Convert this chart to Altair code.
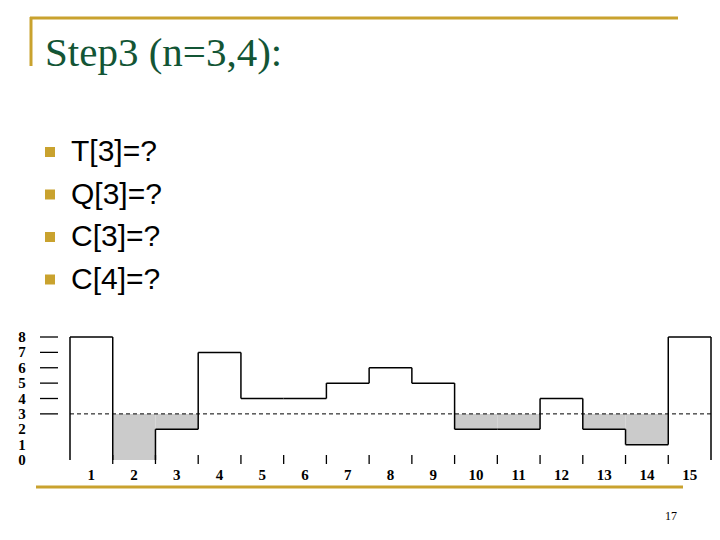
import altair as alt
import pandas as pd

# ---- data ----
bins = list(range(1, 16))
values = [8, 0, 2, 7, 4, 4, 5, 6, 5, 2, 2, 4, 2, 1, 8]
threshold = 3
y_levels = list(range(0, 9))
y_tick_levels = [3, 4, 5, 6, 7, 8]
x_labels = [str(b) for b in bins]
title_text = "Step3 (n=3,4):"
bullet_items = ["T[3]=?", "Q[3]=?", "C[3]=?", "C[4]=?"]
page_number = "17"

GOLD = "#c9a22e"
GREEN = "#135535"
SERIF = "Liberation Serif"
SANS = "Liberation Sans"

# shared scales (chart coords = page coords - 8)
xs = alt.Scale(domain=[0.5, 15.5], range=[62, 703])
ys = alt.Scale(domain=[0, 8], range=[452, 329])

bars = pd.DataFrame({"bin": bins, "val": values})
bars["left"] = bars["bin"] - 0.5
bars["right"] = bars["bin"] + 0.5
bars["thr"] = threshold

tops = bars[bars["val"] > 0]
fills = bars[bars["val"] < threshold]

bounds = [b - 0.5 for b in bins] + [bins[-1] + 0.5]
prev_vals = [0] + values
next_vals = values + [0]
verts = pd.DataFrame({"b": bounds, "y1": prev_vals, "y2": next_vals})
inner = pd.DataFrame({"b": bounds[1:-1]})

X = lambda f: alt.X(f, type="quantitative", scale=xs, axis=None)
Y = lambda f: alt.Y(f, type="quantitative", scale=ys, axis=None)

layers = []

# grey fills below threshold
layers.append(alt.Chart(fills).mark_rect(color="#cbcbcb").encode(
    x=X("left"), x2="right", y=Y("val"), y2="thr"))

# dashed threshold line
thr_df = pd.DataFrame({"l": [bounds[0]], "r": [bounds[-1]], "t": [threshold]})
layers.append(alt.Chart(thr_df).mark_rule(color="black", strokeWidth=1, strokeDash=[4, 3]).encode(
    x=X("l"), x2="r", y=Y("t")))

# y tick lines
layers.append(alt.Chart(pd.DataFrame({"lv": y_tick_levels})).mark_rule(color="black", strokeWidth=1.3).encode(
    x=alt.value(32), x2=alt.value(50), y=Y("lv")))

# histogram tops
layers.append(alt.Chart(tops).mark_rule(color="black", strokeWidth=1.5).encode(
    x=X("left"), x2="right", y=Y("val")))

# histogram verticals
layers.append(alt.Chart(verts).mark_rule(color="black", strokeWidth=1.5).encode(
    x=X("b"), y=Y("y1"), y2="y2"))

# small ticks at bin boundaries
layers.append(alt.Chart(inner).mark_rule(color="black", strokeWidth=1.3).encode(
    x=X("b"), y=alt.value(447), y2=alt.value(456)))

# y labels
layers.append(alt.Chart(pd.DataFrame({"lv": y_levels})).mark_text(
    font=SERIF, fontSize=15, fontWeight="bold", align="center", baseline="middle", color="black").encode(
    x=alt.value(14), y=Y("lv"), text="lv:N"))

# x labels
layers.append(alt.Chart(pd.DataFrame({"bin": bins, "lab": x_labels})).mark_text(
    font=SERIF, fontSize=15, fontWeight="bold", align="center", baseline="alphabetic", color="black").encode(
    x=X("bin"), y=alt.value(472), text="lab:N"))

# slide frame lines
frame = pd.DataFrame({"k": [0]})
layers.append(alt.Chart(frame).mark_rule(color=GOLD, strokeWidth=3).encode(
    x=alt.value(22), x2=alt.value(670), y=alt.value(10)))
layers.append(alt.Chart(frame).mark_rule(color=GOLD, strokeWidth=3).encode(
    x=alt.value(23), y=alt.value(9), y2=alt.value(58)))
layers.append(alt.Chart(frame).mark_rule(color=GOLD, strokeWidth=3).encode(
    x=alt.value(28), x2=alt.value(675), y=alt.value(479)))

# title
layers.append(alt.Chart(pd.DataFrame({"t": [title_text]})).mark_text(
    font=SERIF, fontSize=41, color=GREEN, align="left", baseline="alphabetic").encode(
    x=alt.value(37), y=alt.value(58), text="t:N"))

# bullets
for k, item in enumerate(bullet_items):
    cy = 144 + k * 42.5
    layers.append(alt.Chart(pd.DataFrame({"t": [item]})).mark_square(
        color=GOLD, size=100, opacity=1, filled=True).encode(
        x=alt.value(42), y=alt.value(cy)))
    layers.append(alt.Chart(pd.DataFrame({"t": [item]})).mark_text(
        font=SANS, fontSize=30, color="black", align="left", baseline="alphabetic").encode(
        x=alt.value(63), y=alt.value(cy + 9), text="t:N"))

# page number
layers.append(alt.Chart(pd.DataFrame({"t": [page_number]})).mark_text(
    font=SERIF, fontSize=12, color="black", align="center", baseline="alphabetic").encode(
    x=alt.value(663), y=alt.value(512), text="t:N"))

chart = alt.layer(*layers).properties(
    width=704, height=524,
    autosize=alt.AutoSizeParams(type="none"),
    padding=0,
    background="white",
).configure_view(stroke=None)

chart.save("out.html", embed_options={"renderer": "svg", "actions": False})
